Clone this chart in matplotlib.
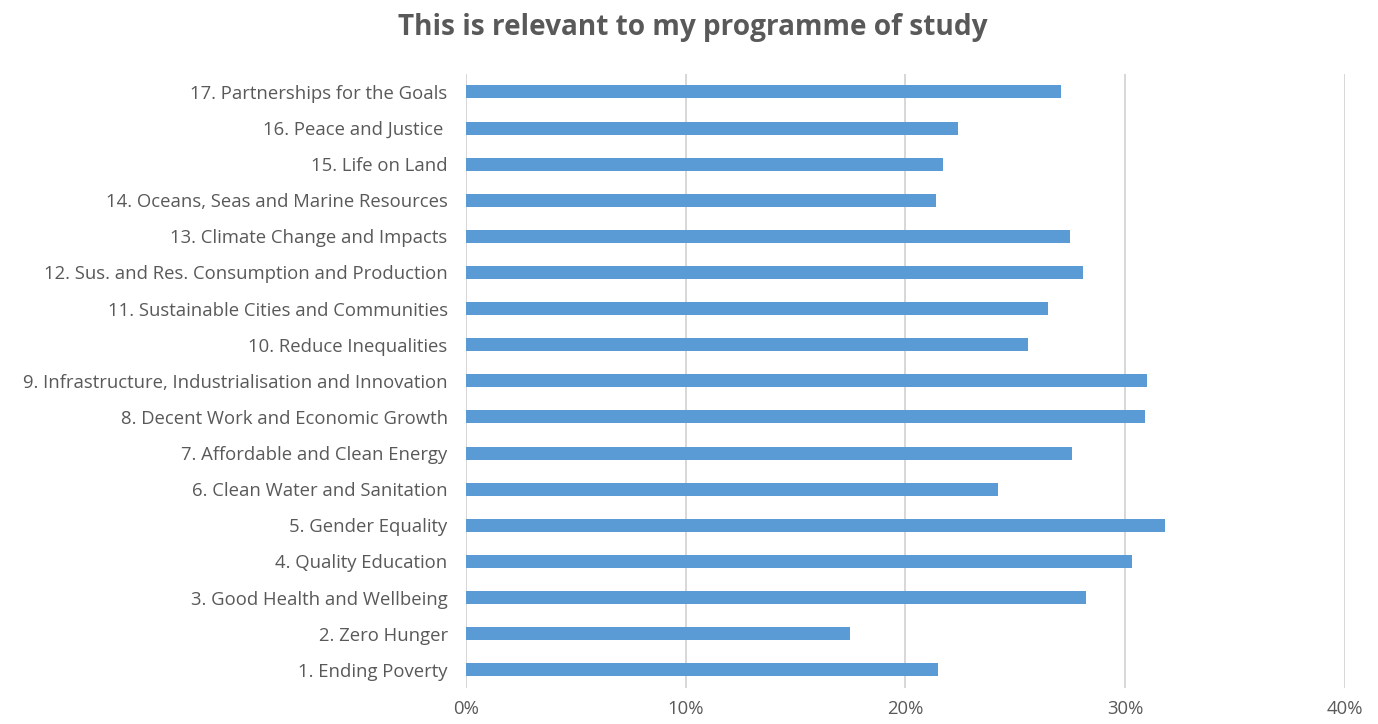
import matplotlib
matplotlib.use('Agg')
import matplotlib.pyplot as plt
from matplotlib.ticker import PercentFormatter
from matplotlib import font_manager

# categories (bottom to top) and share of respondents (%)
goals = [
    '1. Ending Poverty',
    '2. Zero Hunger',
    '3. Good Health and Wellbeing',
    '4. Quality Education',
    '5. Gender Equality',
    '6. Clean Water and Sanitation',
    '7. Affordable and Clean Energy',
    '8. Decent Work and Economic Growth',
    '9. Infrastructure, Industrialisation and Innovation',
    '10. Reduce Inequalities',
    '11. Sustainable Cities and Communities',
    '12. Sus. and Res. Consumption and Production',
    '13. Climate Change and Impacts',
    '14. Oceans, Seas and Marine Resources',
    '15. Life on Land',
    '16. Peace and Justice ',
    '17. Partnerships for the Goals',
]
values = [21.5, 17.5, 28.2, 30.3, 31.8, 24.2, 27.6, 30.9, 31.0,
          25.6, 26.5, 28.1, 27.5, 21.4, 21.7, 22.4, 27.1]
xticks = [0, 10, 20, 30, 40]

names = {f.name for f in font_manager.fontManager.ttflist}
font = 'Liberation Sans Narrow' if 'Liberation Sans Narrow' in names else 'Open Sans'
plt.rcParams['font.family'] = [font, 'DejaVu Sans']

text_col = '#595959'
fig = plt.figure(figsize=(13.78, 7.24), dpi=100)
ax = fig.add_axes([0.338, 0.050, 0.638, 0.848])

ax.barh(range(len(goals)), values, height=0.36, color='#5b9bd5', zorder=3)
ax.set_xlim(0, 40)
ax.set_ylim(-0.5, len(goals) - 0.5)
ax.set_xticks(xticks)
ax.xaxis.set_major_formatter(PercentFormatter(decimals=0))
ax.set_yticks(range(len(goals)))
ax.set_yticklabels(goals)
ax.grid(axis='x', color='#d4d4d4', linewidth=1.3, zorder=0)
for s in ax.spines.values():
    s.set_visible(False)
ax.tick_params(length=0, colors=text_col, labelsize=13.3)
ax.tick_params(axis='x', pad=9)
ax.tick_params(axis='y', pad=13)

fig.suptitle('This is relevant to my programme of study', x=0.503, y=0.982,
             fontsize=20.2, fontweight='bold', color=text_col)

fig.savefig('out.png', dpi=100)
